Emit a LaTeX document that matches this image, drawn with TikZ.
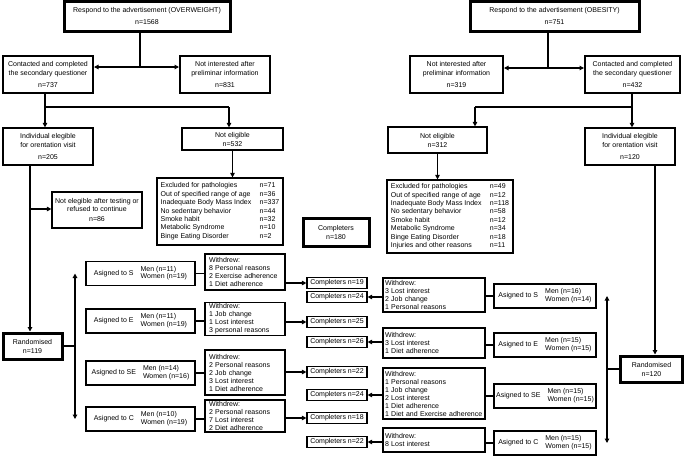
\documentclass[tikz,border=0pt]{standalone}
\usepackage{fontspec}
\setmainfont{Liberation Sans}
\usetikzlibrary{arrows.meta}
\renewcommand{\arraystretch}{0.95}
\newcommand{\asgtext}[3]{Asigned to #1\hspace{7pt}\begin{tabular}{@{}l@{}}Men (n=#2)\\Women (n=#3)\end{tabular}}
\newcommand{\excltab}[1]{{\renewcommand{\arraystretch}{1.05}\begin{tabular}{@{}p{99pt}@{}l@{}}#1\end{tabular}}}

\begin{document}
\begin{tikzpicture}[x=1pt,y=-1pt,
  box/.style={draw,line width=1.2pt,inner sep=1pt,align=center,font=\fontsize{7}{8}\selectfont},
  midbox/.style={box,line width=2pt},
  bigbox/.style={box,line width=3pt},
  listbox/.style={box,align=left,inner xsep=4pt},
  cbox/.style={box,minimum width=60pt,minimum height=11pt,inner sep=0pt},
  every path/.style={line width=1.1pt},
  arr/.style={-{Triangle[length=4.5pt,width=4.5pt]}},
  darr/.style={{Triangle[length=4.5pt,width=4.5pt]}-{Triangle[length=4.5pt,width=4.5pt]}}]
\useasboundingbox (0,0) rectangle (685,456);

% overweight side
\node[bigbox,minimum width=166pt,minimum height=30pt] (top1) at (147,16) {Respond to the advertisement (OVERWEIGHT)\\[4pt]n=1568};
\node[midbox,minimum width=90pt,minimum height=37pt] (cont1) at (48,74.5) {Contacted and completed\\[1pt]the secondary questioner\\[4pt]n=737};
\node[midbox,minimum width=90pt,minimum height=37pt] (notint1) at (225,74.5) {Not interested after\\[1pt]preliminar information\\[4pt]n=831};
\node[box,minimum width=90pt,minimum height=37pt] (elig1) at (48,146.5) {Individual elegible\\[1pt]for orentation visit\\[4pt]n=205};
\node[box,minimum width=101pt,minimum height=22pt] (notel1) at (232.5,139) {Not eligible\\[1pt]n=532};
\node[box,minimum width=126pt,minimum height=67pt] (excl1) at (220,211.5) {\excltab{Excluded for pathologies & n=71\\ Out of specified range of age & n=36\\ Inadequate Body Mass Index & n=337\\ No sedentary behavior & n=44\\ Smoke habit & n=32\\ Metabolic Syndrome & n=10\\ Binge Eating Disorder & n=2}};
\node[box,minimum width=90pt,minimum height=36pt] (after1) at (97,210) {Not elegible after testing or\\refused to continue\\[2pt]n=86};
\node[bigbox,minimum width=59pt,minimum height=26pt] (rand1) at (32.5,346) {Randomised\\[1pt]n=119};

\node[box,minimum width=109pt,minimum height=24pt] (asgS1) at (140.5,273.5) {\asgtext{S}{11}{19}};
\node[box,minimum width=109pt,minimum height=24pt] (asgE1) at (140.5,321) {\asgtext{E}{11}{19}};
\node[box,minimum width=109pt,minimum height=24pt] (asgSE1) at (140.5,373) {\asgtext{SE}{14}{16}};
\node[box,minimum width=109pt,minimum height=24pt] (asgC1) at (140.5,419) {\asgtext{C}{10}{19}};

\node[listbox,text width=72pt,minimum height=36pt] (wS1) at (245,272) {Withdrew:\\8 Personal reasons\\2 Exercise adherence\\1 Diet adherence};
\node[listbox,text width=72pt,minimum height=32pt] (wE1) at (245,319) {Withdrew:\\ 1 Job change\\ 1 Lost interest\\ 3 personal reasons};
\node[listbox,text width=72pt,minimum height=45pt] (wSE1) at (245,372.5) {Withdrew:\\2 Personal reasons\\2 Job change\\3 Lost interest\\1 Diet adherence};
\node[listbox,text width=72pt,minimum height=32pt] (wC1) at (245,416) {Withdrew:\\2 Personal reasons\\7 Lost interest\\2 Diet adherence};

\node[cbox] (cS1) at (337,283) {Completers n=19};
\node[cbox] (cE1) at (337,322) {Completers n=25};
\node[cbox] (cSE1) at (337,372) {Completers n=22};
\node[cbox] (cC1) at (337,418) {Completers n=18};

\node[bigbox,minimum width=66pt,minimum height=28pt] (tot) at (336,232) {Completers\\[1pt]n=180};

\coordinate (j1) at (140,67);
\coordinate (f1) at (45,107);
\coordinate (f1r) at (229,107);
\coordinate (b1) at (30,209);
\coordinate (d1) at (75,346);

\draw (top1.south -| j1) -- (j1);
\draw[arr] (j1) -- (cont1.east |- j1);
\draw[arr] (j1) -- (notint1.west |- j1);
\draw (cont1.south -| f1) -- (f1) -- (f1r);
\draw[arr] (f1) -- (elig1.north -| f1);
\draw[arr] (f1r) -- (notel1.north -| f1r);
\draw[arr] (notel1.south) -- (excl1.north -| notel1.south);
\draw[arr] (elig1.south -| b1) -- (rand1.north -| b1);
\draw[arr] (b1) -- (after1.west |- b1);
\draw (rand1.east) -- (d1);
\draw[darr] (asgS1.west -| d1) -- (asgC1.west -| d1);
\foreach \g in {S,E,SE,C} {
  \draw (asg\g1.east) -- (w\g1.west |- asg\g1.east);
  \draw[arr] (w\g1.east |- c\g1.west) -- (c\g1.west);
}

% obesity side
\node[bigbox,minimum width=169pt,minimum height=30pt] (top2) at (554.5,16) {Respond to the advertisement (OBESITY)\\[4pt]n=751};
\node[midbox,minimum width=93pt,minimum height=37pt] (notint2) at (456.5,74.5) {Not interested after\\[1pt]preliminar information\\[4pt]n=319};
\node[midbox,minimum width=95pt,minimum height=37pt] (cont2) at (632.5,74.5) {Contacted and completed\\[1pt]the secondary questioner\\[4pt]n=432};
\node[box,minimum width=99pt,minimum height=26pt] (notel2) at (437.5,140) {Not eligible\\[1pt]n=312};
\node[box,minimum width=126pt,minimum height=73pt] (excl2) at (450,216.5) {\excltab{Excluded for pathologies & n=49\\ Out of specified range of age & n=12\\ Inadequate Body Mass Index & n=118\\ No sedentary behavior & n=58\\ Smoke habit & n=12\\ Metabolic Syndrome & n=34\\ Binge Eating Disorder & n=18\\ Injuries and other reasons & n=11}};
\node[box,minimum width=90pt,minimum height=37pt] (elig2) at (630,146.5) {Individual elegible\\[1pt]for orentation visit\\[4pt]n=120};
\node[bigbox,minimum width=62pt,minimum height=26pt] (rand2) at (651.5,369) {Randomised\\[1pt]n=120};

\node[box,minimum width=102pt,minimum height=24pt] (asgS2) at (545,296) {\asgtext{S}{16}{14}};
\node[box,minimum width=102pt,minimum height=24pt] (asgE2) at (545,345) {\asgtext{E}{15}{15}};
\node[box,minimum width=102pt,minimum height=24pt] (asgSE2) at (545,396) {\asgtext{SE}{15}{15}};
\node[box,minimum width=102pt,minimum height=24pt] (asgC2) at (545,443) {\asgtext{C}{15}{15}};

\node[listbox,inner xsep=2pt,text width=98pt,minimum height=34pt] (wS2) at (434,295) {Withdrew:\\3 Lost interest\\2 Job change\\1 Personal reasons};
\node[listbox,inner xsep=2pt,text width=98pt,minimum height=30pt] (wE2) at (434,343) {Withdrew:\\3 Lost interest\\1 Diet adherence};
\node[listbox,inner xsep=2pt,text width=98pt,minimum height=51pt] (wSE2) at (434,393.5) {Withdrew:\\1 Personal reasons\\1 Job change\\2 Lost interest\\1 Diet adherence\\\mbox{1 Diet and Exercise adherence}};
\node[listbox,inner xsep=2pt,text width=98pt,minimum height=24pt] (wC2) at (434,440) {Withdrew:\\8 Lost interest};

\node[cbox] (cS2) at (337,297) {Completers n=24};
\node[cbox] (cE2) at (337,342) {Completers n=26};
\node[cbox] (cSE2) at (337,395) {Completers n=24};
\node[cbox] (cC2) at (337,442) {Completers n=22};

\coordinate (j2) at (548,68);
\coordinate (f2) at (632,107);
\coordinate (f2l) at (475,107);
\coordinate (t2) at (655,250);
\coordinate (d2) at (607,369);

\draw (top2.south -| j2) -- (j2);
\draw[arr] (j2) -- (notint2.east |- j2);
\draw[arr] (j2) -- (cont2.west |- j2);
\draw (cont2.south -| f2) -- (f2) -- (f2l);
\draw[arr] (f2) -- (elig2.north -| f2);
\draw[arr] (f2l) -- (notel2.north -| f2l);
\draw[arr] (notel2.south) -- (excl2.north -| notel2.south);
\draw[arr] (elig2.south -| t2) -- (rand2.north -| t2);
\draw (rand2.west) -- (d2);
\draw[darr] (asgS2.east -| d2) -- (asgC2.east -| d2);
\foreach \g in {S,E,SE,C} {
  \draw (asg\g2.west) -- (w\g2.east |- asg\g2.west);
  \draw[arr] (w\g2.west |- c\g2.east) -- (c\g2.east);
}
\end{tikzpicture}
\end{document}
